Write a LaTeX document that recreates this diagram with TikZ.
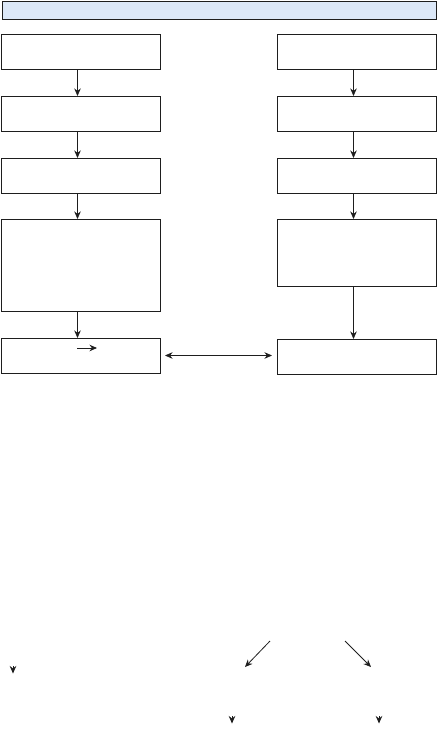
\documentclass[tikz,border=0pt]{standalone}
\usepackage{xcolor}
\usetikzlibrary{positioning, arrows.meta}
\definecolor{barfill}{HTML}{DCE8F8}
\definecolor{linemain}{HTML}{1E1E1E}

\begin{document}
\begin{tikzpicture}[x=1pt, y=-1pt,
        node distance=27pt,
        box/.style={rectangle, draw=linemain, line width=0.8pt, outer sep=0pt,
                    minimum width=159pt, minimum height=35pt, inner sep=0pt},
        arr/.style={-{Stealth[length=7.5pt, width=6.5pt]}, linemain, line width=0.8pt}
      ]
        \useasboundingbox (0,0) rectangle (438,729);
        \node[rectangle, draw=linemain, fill=barfill, line width=0.8pt, inner sep=0pt,
              minimum width=434pt, minimum height=18pt, anchor=north west] (bar) at (2,1) {};
        % left column
        \node[box, anchor=north west] (l1) at (1,34) {};
        \node[box, below=of l1] (l2) {};
        \node[box, below=of l2] (l3) {};
        \node[box, below=26pt of l3, minimum height=92pt] (l4) {};
        \node[box, below=of l4] (l5) {};
        % right column
        \node[box, anchor=north west] (r1) at (277,34) {};
        \node[box, below=of r1] (r2) {};
        \node[box, below=of r2] (r3) {};
        \node[box, below=26pt of r3, minimum height=67pt] (r4) {};
        \node[box, below=53pt of r4] (r5) {};
        \draw[arr] ([xshift=-3pt]l1.south) -- ([xshift=-3pt]l2.north);
        \draw[arr] ([xshift=-3pt]l2.south) -- ([xshift=-3pt]l3.north);
        \draw[arr] ([xshift=-3pt]l3.south) -- ([xshift=-3pt]l4.north);
        \draw[arr] ([xshift=-3pt]l4.south) -- ([xshift=-3pt]l5.north);
        \draw[arr] ([xshift=-3pt]r1.south) -- ([xshift=-3pt]r2.north);
        \draw[arr] ([xshift=-3pt]r2.south) -- ([xshift=-3pt]r3.north);
        \draw[arr] ([xshift=-3pt]r3.south) -- ([xshift=-3pt]r4.north);
        \draw[arr] ([xshift=-3pt]r4.south) -- ([xshift=-3pt]r5.north);
        \draw[arr, {Stealth[length=7.5pt, width=6.5pt]}-{Stealth[length=7.5pt, width=6.5pt]},
              shorten <=5pt, shorten >=5pt] (l5.east) -- (l5.east -| r5.west);
        % small arrow inside the last left box
        \coordinate (m1) at (77,348);
        \coordinate (m2) at (97,348);
        \draw[arr] (m1) -- (m2);
        % lower part
        \coordinate (d1) at (270,641);
        \coordinate (d2) at (245,667);
        \coordinate (d3) at (345,641);
        \coordinate (d4) at (371,667);
        \draw[arr] (d1) -- (d2);
        \draw[arr] (d3) -- (d4);
        \coordinate (t1) at (13,666);
        \coordinate (t2) at (232,716);
        \coordinate (t3) at (379,716);
        \draw[arr] (t1) -- ++(0,7.5);
        \draw[arr] (t2) -- ++(0,7.5);
        \draw[arr] (t3) -- ++(0,7.5);
      \end{tikzpicture}
\end{document}
